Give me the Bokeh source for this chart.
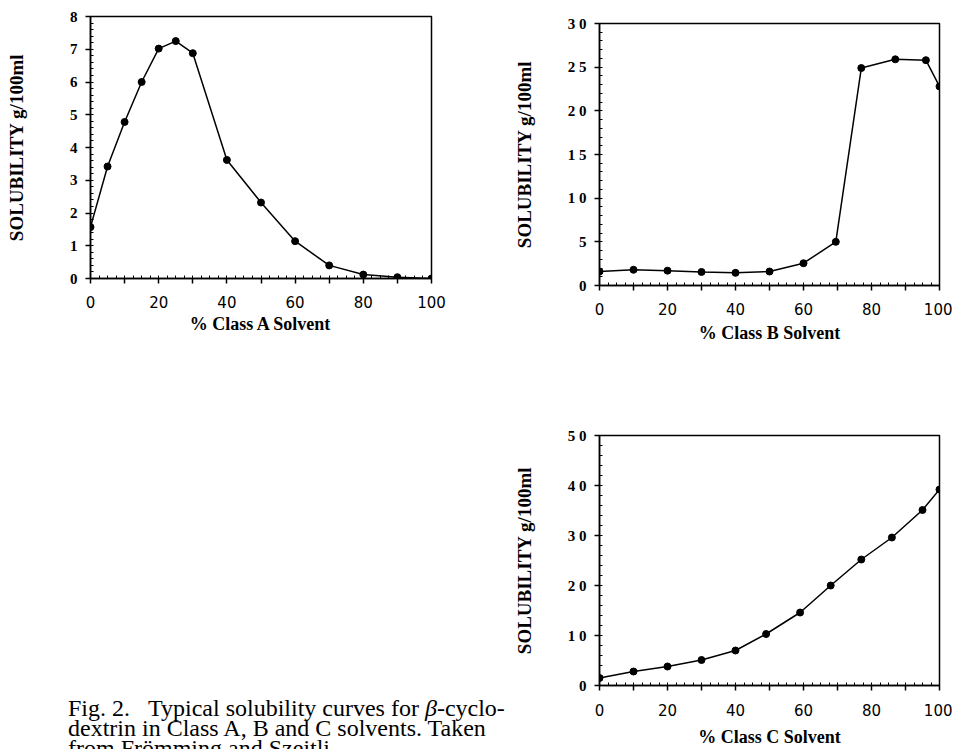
import numpy as np
from bokeh.plotting import figure
from bokeh.models import Range1d, FixedTicker, Div
from bokeh.layouts import row, column
from bokeh.embed import file_html
from bokeh.resources import INLINE

# ---- data ----
a_x = [0, 5, 10, 15, 20, 25, 30, 40, 50, 60, 70, 80, 90, 100]
a_y = [1.57, 3.42, 4.78, 6.0, 7.02, 7.25, 6.88, 3.62, 2.32, 1.14, 0.40, 0.12, 0.04, 0.0]

b_x = [0, 10, 20, 30, 40, 50, 60, 69.5, 77, 87, 96, 100]
b_y = [1.6, 1.8, 1.7, 1.55, 1.45, 1.6, 2.55, 5.0, 24.9, 25.9, 25.8, 22.8]

c_x = [0, 10, 20, 30, 40, 49, 59, 68, 77, 86, 95, 100]
c_y = [1.5, 2.8, 3.8, 5.1, 7.0, 10.3, 14.6, 20.0, 25.2, 29.6, 35.1, 39.2]

x_ticks = list(range(0, 101, 10))
x_labels = {t: (str(t) if t % 20 == 0 else "") for t in x_ticks}

a_yticks = list(range(0, 9, 1))
b_yticks = list(range(0, 31, 5))
b_ylabels = {0: "0", 5: "5", 10: "1 0", 15: "1 5", 20: "2 0", 25: "2 5", 30: "3 0"}
c_yticks = list(range(0, 51, 10))
c_ylabels = {0: "0", 10: "1 0", 20: "2 0", 30: "3 0", 40: "4 0", 50: "5 0"}

y_title = "SOLUBILITY g/100ml"
titles = ["% Class A Solvent", "% Class B Solvent", "% Class C Solvent"]

SERIF = "Liberation Serif"
SANS = "DejaVu Sans"


def make_panel(xs, ys, ymax, yticks, yminor, ylabels, xtitle,
               width, height, bl, br, bt, bb, ytitle_standoff, xlab_standoff,
               xtitle_standoff):
    p = figure(width=width, height=height, output_backend="svg",
               toolbar_location=None, x_range=Range1d(0, 100),
               y_range=Range1d(0, ymax),
               min_border_left=bl, min_border_right=br,
               min_border_top=bt, min_border_bottom=bb)
    p.background_fill_color = "white"
    p.border_fill_color = None
    p.outline_line_color = "black"
    p.outline_line_width = 1.5
    p.xgrid.visible = False
    p.ygrid.visible = False

    p.xaxis.ticker = FixedTicker(ticks=x_ticks,
                                 minor_ticks=list(np.arange(0, 100.01, 2.5)))
    p.xaxis.major_label_overrides = x_labels
    p.yaxis.ticker = FixedTicker(ticks=yticks, minor_ticks=yminor)
    if ylabels:
        p.yaxis.major_label_overrides = ylabels

    for ax in (p.xaxis, p.yaxis):
        ax.axis_line_color = "black"
        ax.axis_line_width = 1.5
        ax.major_tick_line_color = "black"
        ax.major_tick_line_width = 1.5
        ax.minor_tick_line_color = "black"
        ax.minor_tick_line_width = 1
        ax.major_tick_in = 0
        ax.major_tick_out = 5
        ax.minor_tick_in = 3
        ax.minor_tick_out = 0
        ax.axis_label_text_font = SERIF
        ax.axis_label_text_font_style = "bold"
        ax.axis_label_text_color = "black"

    p.xaxis.major_label_text_font = SANS
    p.xaxis.major_label_text_font_size = "15px"
    p.xaxis.major_label_text_color = "black"
    p.xaxis.major_label_standoff = xlab_standoff
    p.xaxis.axis_label = xtitle
    p.xaxis.axis_label_text_font_size = "18px"
    p.xaxis.axis_label_standoff = xtitle_standoff

    p.yaxis.major_label_text_font = SERIF
    p.yaxis.major_label_text_font_style = "bold"
    p.yaxis.major_label_text_font_size = "15px"
    p.yaxis.major_label_text_color = "black"
    p.yaxis.major_label_standoff = 8
    p.yaxis.axis_label = y_title
    p.yaxis.axis_label_text_font_size = "19px"
    p.yaxis.axis_label_standoff = ytitle_standoff

    p.line(xs, ys, line_color="black", line_width=1.5)
    p.scatter(xs, ys, size=7, fill_color="black", line_color="black")
    return p


pa = make_panel(a_x, a_y, 8, a_yticks, list(np.arange(0, 8.01, 0.2)), None,
                titles[0], 480, 340, 90, 49, 16, 62, 40, 12, 3)
pb = make_panel(b_x, b_y, 30, b_yticks, list(range(0, 31, 1)), b_ylabels,
                titles[1], 462, 419, 109, 13, 23, 134, 30, 12, 5)
pc = make_panel(c_x, c_y, 50, c_yticks, list(range(0, 51, 2)), c_ylabels,
                titles[2], 462, 330, 109, 13, 16, 57, 30, 13, 8)

caption = Div(
    text=('<div style="margin-left:63px; margin-top:353px; '
          'font-family:\'Liberation Serif\'; font-size:24px; line-height:20px; '
          'color:black; white-space:nowrap;">'
          'Fig. 2.&nbsp;&nbsp;&nbsp;Typical solubility curves for <i>&beta;</i>-cyclo-<br>'
          'dextrin in Class A, B and C solvents. Taken<br>'
          'from Fr&ouml;mming and Szejtli.</div>'),
    width=480, height=409)

layout = row(column(pa, caption), column(pb, pc))

open("out.html", "w").write(file_html(layout, INLINE))
